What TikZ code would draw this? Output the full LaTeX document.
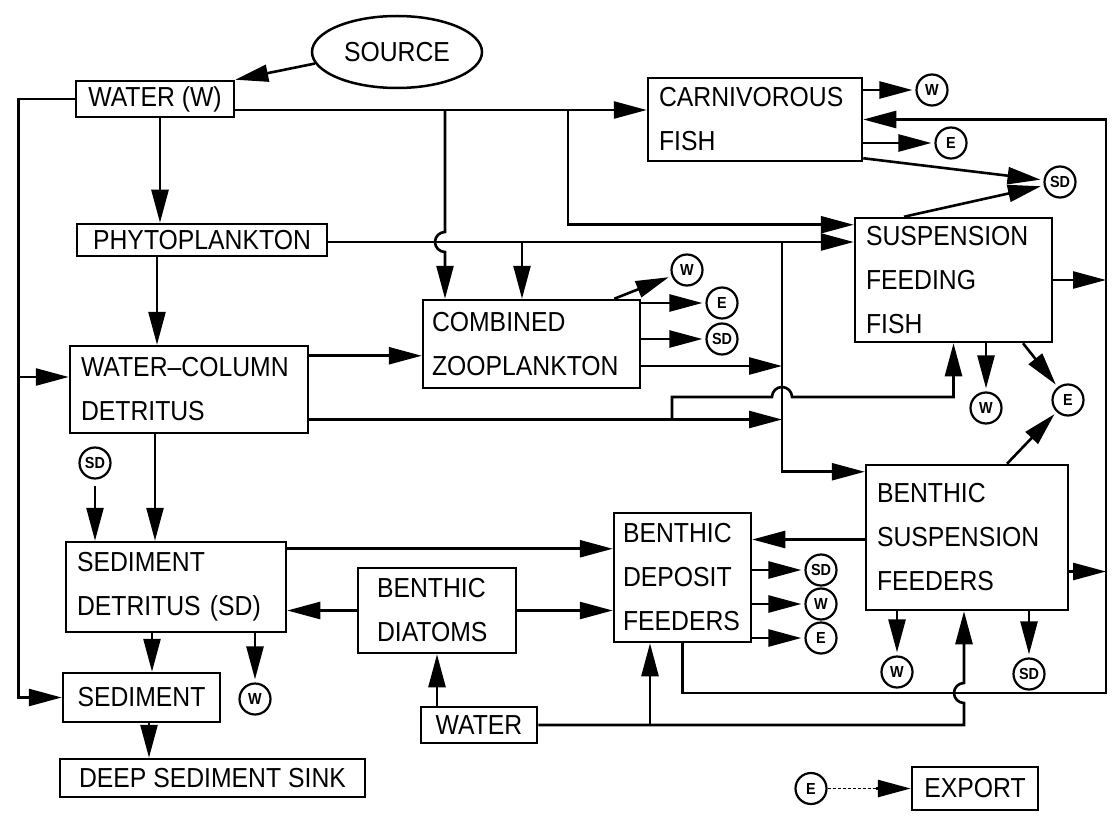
\documentclass[tikz,border=0pt]{standalone}
\usepackage{fontspec}
\setmainfont{Liberation Sans}[FakeStretch=0.9]
\usetikzlibrary{arrows.meta,shapes.geometric}
\begin{document}
\begin{tikzpicture}[x=1pt,y=-1pt,
  box/.style={draw, line width=2.5pt, inner sep=0pt, font=\fontsize{27.5}{44}\selectfont},
  tb/.style={box, align=left, text width=#1, inner xsep=11pt},
  circ/.style={draw, circle, line width=2.2pt, minimum size=31pt, inner sep=0pt, font=\fontsize{16}{16}\selectfont\bfseries},
  arr/.style={-{Triangle[length=33pt,width=17pt]}, line width=2.6pt},
  oarr/.style={arr, shorten >=3pt},
]
\fill[white] (0,0) rectangle (1115,826);
\useasboundingbox (0,0) rectangle (1115,826);

% boxes
\node[draw, ellipse, line width=2.5pt, minimum width=170pt, minimum height=72pt, inner sep=0pt, font=\fontsize{27.5}{30}\selectfont] (src) at (397,52) {SOURCE};
\node[box, minimum width=158pt, minimum height=36pt] (wat) at (155,99) {WATER (W)};
\node[box, minimum width=250pt, minimum height=32pt] (phy) at (202,240) {PHYTOPLANKTON};
\node[tb=216pt, minimum height=87pt] (wcd) at (189,389.5) {WATER--COLUMN\\DETRITUS};
\node[tb=198pt, minimum height=90pt] (sdd) at (176,587) {SEDIMENT\\DETRITUS (SD)};
\node[box, minimum width=157pt, minimum height=49pt] (sed) at (141.5,697.5) {SEDIMENT};
\node[box, minimum width=305pt, minimum height=38pt] (deep) at (212.5,778) {DEEP SEDIMENT SINK};
\node[tb=120pt, inner xsep=19pt, minimum height=85pt] (bd) at (437,610.5) {BENTHIC\\DIATOMS};
\node[box, minimum width=116pt, minimum height=36pt] (bwat) at (479,725) {WATER};
\node[tb=199pt, inner xsep=9pt, minimum height=88pt] (zoo) at (531.5,344) {COMBINED\\ZOOPLANKTON};
\node[tb=192pt, minimum height=83pt] (car) at (755,119.5) {CARNIVOROUS\\FISH};
\node[tb=175pt, minimum height=124pt] (sff) at (953.5,280) {SUSPENSION\\FEEDING\\FISH};
\node[tb=119pt, inner xsep=9pt, minimum height=129pt] (bdf) at (682.5,577.5) {BENTHIC\\DEPOSIT\\FEEDERS};
\node[tb=180pt, minimum height=145pt] (bsf) at (967,537.5) {BENTHIC\\SUSPENSION\\FEEDERS};
\node[box, minimum width=126pt, minimum height=43pt] (exp) at (975,788.5) {EXPORT};

% circles
\node[circ] (cW1) at (932,90) {W};
\node[circ] (cE1) at (951,143) {E};
\node[circ] (cSD1) at (1060,182) {SD};
\node[circ] (cW2) at (687,270) {W};
\node[circ] (cE2) at (722,303) {E};
\node[circ] (cSD2) at (722,339) {SD};
\node[circ] (cW3) at (986,408) {W};
\node[circ] (cE3) at (1068,400) {E};
\node[circ] (cSD3) at (95,463) {SD};
\node[circ] (cW4) at (255,699) {W};
\node[circ] (cSD4) at (821,570) {SD};
\node[circ] (cW5) at (821,604) {W};
\node[circ] (cE4) at (821,638) {E};
\node[circ] (cW6) at (897,672) {W};
\node[circ] (cSD5) at (1029,674) {SD};
\node[circ] (cE5) at (811,788.5) {E};

% helper coordinates
\coordinate (Vx) at (782,0);
\coordinate (Rx) at (1106,0);
\coordinate (jL1) at (20,377);
\coordinate (watE) at ([yshift=-11pt]wat.east);
\coordinate (jW1) at (445,110);
\coordinate (jW2) at (568,110);
\coordinate (phyE) at ([yshift=-2pt]phy.east);
\coordinate (jP1) at (522,242);
\coordinate (jP2) at (phyE -| Vx);
\coordinate (sffNW) at ([yshift=-8pt]sff.north west);
\coordinate (bsfNW) at ([yshift=-8pt]bsf.north west);
\coordinate (wcdNE) at ([yshift=-11pt]wcd.north east);
\coordinate (wcdE) at ([yshift=-30pt]wcd.east);
\coordinate (jD1) at (672,419.5);
\coordinate (zooE) at ([yshift=-22pt]zoo.east);
\coordinate (sdE) at ([yshift=-8pt]sdd.north east);
\coordinate (bsfS) at ([xshift=-3pt]bsf.south);
\coordinate (bdfS) at ([xshift=-32.5pt]bdf.south);
\coordinate (R1) at (1106,693);
\coordinate (bsfE) at ([yshift=-34pt]bsf.east);
\coordinate (bsfW) at ([yshift=-2pt]bsf.west);
\coordinate (eD) at (876,788.5);

% connectors
\draw[arr] (src.188) -- (wat.north east);
\draw[arr] (wat.west) -- ++(-56,0) |- (sed.west);
\draw[arr] (jL1) -- (jL1 -| wcd.west);
\draw[arr] ([xshift=5pt]wat.south) -- ([xshift=-42pt]phy.north);
\draw[arr] ([xshift=-45pt]phy.south) -- ([xshift=-32pt]wcd.north);
\draw[arr] ([xshift=-34pt]wcd.south) -- ([xshift=-21pt]sdd.north);
\draw[arr] ([yshift=-6pt]cSD3.south) -- (cSD3.south |- sdd.north);
\draw[arr] ([xshift=-24pt]sdd.south) -- ([xshift=10.5pt]sed.north);
\draw[oarr] ([xshift=79pt]sdd.south) -- (cW4.north);
\draw[arr] ([xshift=7.5pt]sed.south) -- ([xshift=-63.5pt]deep.north);
\draw[arr] (bd.west) -- (bd.west -| sdd.east);
\draw[arr] (bd.east) -- (bd.east -| bdf.west);
\draw[arr] (sdE) -- (sdE -| bdf.west);
\draw[arr] ([xshift=-42pt]bwat.north) -- (bd.south);

% water line (top)
\draw[arr] (watE) -- (watE -| car.west);
\draw[arr] (jW1) -- (445,232) arc[start angle=90, end angle=270, radius=10pt] -- (jW1 |- zoo.north);
\draw[arr] (jW2) |- (sffNW);

% phytoplankton line
\draw[arr] (phyE) -- (phyE -| sff.west);
\draw[arr] (jP1) -- (jP1 |- zoo.north);
\draw[arr] (jP2) |- (bsfNW);

% detritus and zooplankton
\draw[arr] (wcdNE) -- (wcdNE -| zoo.west);
\draw[arr] (wcdE) -- (wcdE -| Vx);
\draw[arr] (jD1) |- (772,397) arc[start angle=180, end angle=0, radius=10pt] -| (sff.south);
\draw[arr] (zooE) -- (zooE -| Vx);
\draw[oarr] ([xshift=-27pt]zoo.north east) -- (cW2);
\draw[oarr] (zoo.east |- cE2) -- (cE2.west);
\draw[oarr] (zoo.east |- cSD2) -- (cSD2.west);

% carnivorous fish
\draw[oarr] (car.east |- cW1) -- (cW1.west);
\draw[oarr] (car.east |- cE1) -- (cE1.west);
\draw[oarr] ([yshift=4pt]car.south east) -- (cSD1);
\draw[oarr] ([xshift=-49.5pt]sff.north) -- (cSD1);

% suspension feeding fish
\draw[arr] (sff.east) -- (sff.east -| Rx);
\draw[oarr] (sff.south -| cW3) -- (cW3.north);
\draw[oarr] ([xshift=69.5pt]sff.south) -- (cE3);

% benthic suspension feeders
\draw[oarr] ([xshift=40pt]bsf.north) -- (cE3);
\draw[arr] (bsfE) -- (bsfE -| Rx);
\draw[arr] (bsfW) -- (bsfW -| bdf.east);
\draw[oarr] (bsf.south -| cW6) -- (cW6.north);
\draw[oarr] (bsf.south -| cSD5) -- (cSD5.north);

% benthic deposit feeders
\draw[oarr] (bdf.east |- cSD4) -- (cSD4.west);
\draw[oarr] (bdf.east |- cW5) -- (cW5.west);
\draw[oarr] (bdf.east |- cE4) -- (cE4.west);
\draw[arr] (bdf.south) |- (R1) -- (R1 |- car.east) -- (car.east);

% bottom water line
\draw[arr] (bwat.east) -- (bwat.east -| bsfS) -- ++(0,-22) arc[start angle=270, end angle=90, radius=10pt] -- (bsfS);
\draw[arr] (bdfS |- bwat.east) -- (bdfS);

% legend
\draw[line width=1.2pt, densely dashed] (cE5.east) -- (eD);
\draw[arr] (eD) -- (exp.west);
\end{tikzpicture}
\end{document}
